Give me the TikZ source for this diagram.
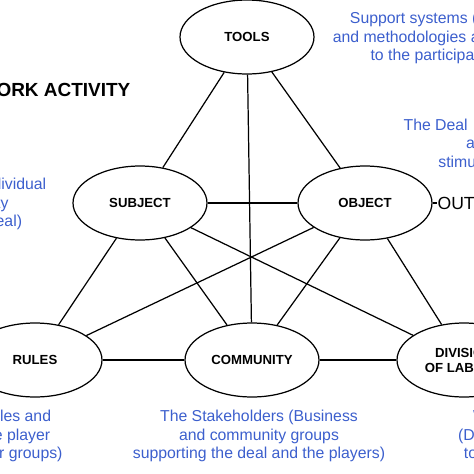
\documentclass[tikz,border=0pt]{standalone}
\usepackage{fontspec}
\setmainfont{Liberation Sans}
\usetikzlibrary{shapes.geometric}
\definecolor{noteblue}{RGB}{60,95,205}
\begin{document}
\begin{tikzpicture}[x=0.02cm, y=-0.02cm, line width=0.7pt,
	element/.style={draw, ellipse, minimum width=2.68cm, minimum height=1.48cm, inner sep=0pt, align=center, font=\fontsize{7.5}{8.5}\selectfont\bfseries},
	note/.style={text=noteblue, align=center, inner sep=0pt, font=\fontsize{9}{10.6}\selectfont}]
		\useasboundingbox (0,0) rectangle (474,474);
		\clip (0,0) rectangle (474,474);
		
		% elements of the activity system
		\node[element] (tools) at (247,37) {TOOLS};
		\node[element] (subject) at (140,203) {SUBJECT};
		\node[element] (object) at (365,203) {OBJECT};
		\node[element] (rules) at (35,360) {RULES};
		\node[element] (community) at (252,360) {COMMUNITY};
		\node[element] (division) at (464,360) {DIVISION\\OF LABOUR};
		
		\node[anchor=east, inner sep=0pt, font=\fontsize{10.8}{13}\selectfont\bfseries] (title) at (131,90) {WORK ACTIVITY};
		\node[anchor=west, inner sep=0pt, font=\fontsize{10}{12}\selectfont] (outcome) at (437,203) {OUTCOME};
		
		% notes
		\node[note] (toolsnote) at (433,38) {Support systems (tools)\\and methodologies available\\to the participants};
		\node[note, anchor=west, align=left] (objectnote) at (403,143) {The Deal\\\hspace*{3.95em}and\\\hspace*{2.2em}stimulus};
		\node[note] (subjectnote) at (-10,204) {(Each Individual\\Party\\the Deal)};
		\node[note] (rulesnote) at (15.5,436) {Rules and\\the player\\(their groups)};
		\node[note] (communitynote) at (259,436) {The Stakeholders (Business\\and community groups\\supporting the deal and the players)};
		\node[note] (divisionnote) at (514,436) {Who is who\\(Division of jobs\\to the players)};
		
		% connections
		\draw (tools) -- (subject);
		\draw (tools) -- (community);
		\draw (tools) -- (object);
		\draw (subject) -- (object);
		\draw (subject) -- (rules);
		\draw (subject) -- (community);
		\draw (subject) -- (division);
		\draw (object) -- (rules);
		\draw (object) -- (community);
		\draw (object) -- (division);
		\draw (rules) -- (community);
		\draw (community) -- (division);
		\draw (object) -- (outcome);
	\end{tikzpicture}
\end{document}
